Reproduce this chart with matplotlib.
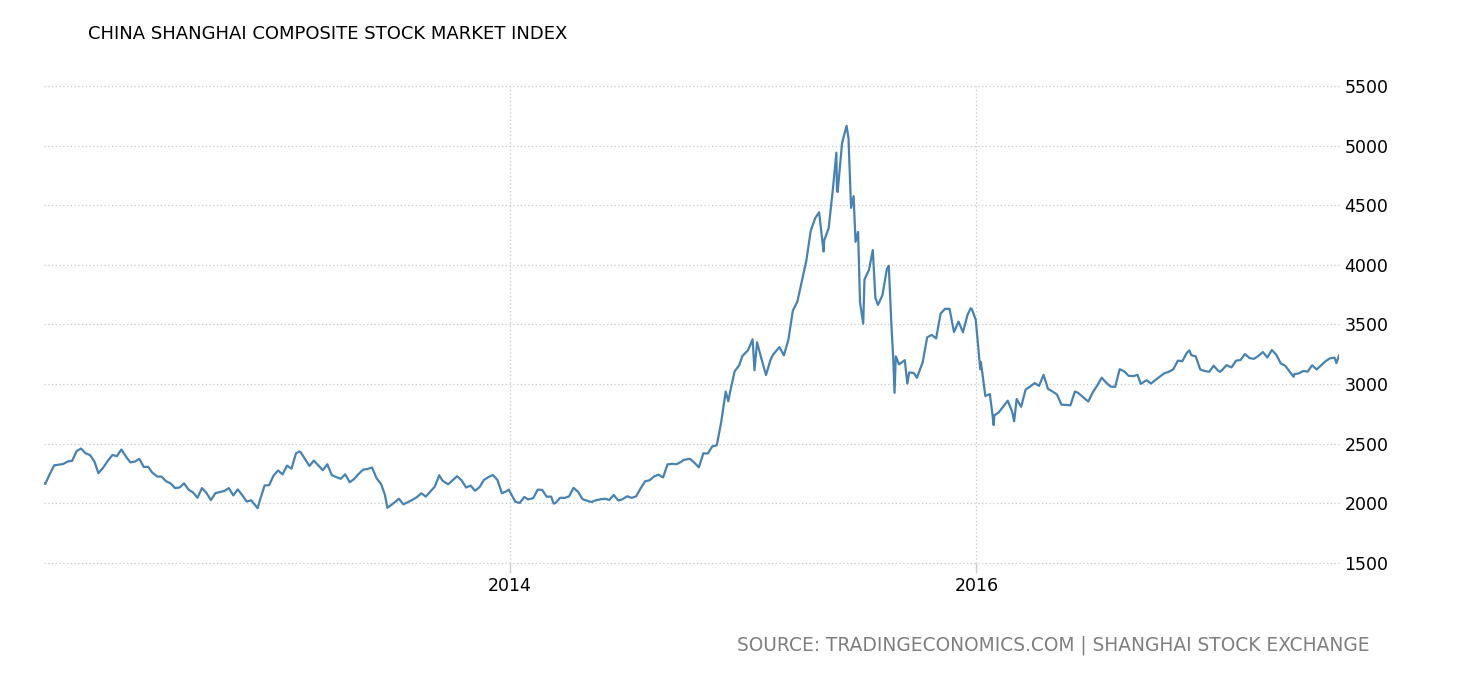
import pandas as pd
import matplotlib
matplotlib.use("Agg")
import matplotlib.pyplot as plt

# index levels (mostly weekly closes, a few daily extremes)
dates_2012 = ["2012-01-04", "2012-01-06", "2012-01-13", "2012-01-20", "2012-02-03", "2012-02-10",
              "2012-02-17", "2012-02-24", "2012-03-02", "2012-03-09", "2012-03-16", "2012-03-23",
              "2012-03-29", "2012-04-06", "2012-04-13", "2012-04-20", "2012-04-27", "2012-05-04",
              "2012-05-11", "2012-05-18", "2012-05-25", "2012-06-01", "2012-06-08", "2012-06-15",
              "2012-06-21", "2012-06-29", "2012-07-06", "2012-07-13", "2012-07-20", "2012-07-27",
              "2012-08-03", "2012-08-10", "2012-08-17", "2012-08-24", "2012-08-31", "2012-09-07",
              "2012-09-14", "2012-09-21", "2012-09-28", "2012-10-12", "2012-10-19", "2012-10-26",
              "2012-11-02", "2012-11-09", "2012-11-16", "2012-11-23", "2012-11-30", "2012-12-03",
              "2012-12-07", "2012-12-14", "2012-12-21", "2012-12-28"]
values_2012 = [2169, 2163, 2245, 2319, 2330, 2351,
               2357, 2439, 2460, 2420, 2405, 2349,
               2253, 2303, 2359, 2406, 2396, 2452,
               2394, 2344, 2350, 2373, 2306, 2306,
               2260, 2225, 2224, 2185, 2168, 2128,
               2133, 2168, 2115, 2092, 2047, 2128,
               2088, 2027, 2086, 2104, 2128, 2067,
               2117, 2069, 2015, 2026, 1980, 1959,
               2033, 2150, 2153, 2233]

dates_2013 = ["2013-01-04", "2013-01-11", "2013-01-18", "2013-01-25", "2013-02-01", "2013-02-06",
              "2013-02-08", "2013-02-22", "2013-03-01", "2013-03-08", "2013-03-15", "2013-03-22",
              "2013-03-29", "2013-04-03", "2013-04-12", "2013-04-19", "2013-04-26", "2013-05-03",
              "2013-05-10", "2013-05-17", "2013-05-24", "2013-05-31", "2013-06-07", "2013-06-14",
              "2013-06-20", "2013-06-24", "2013-06-28", "2013-07-05", "2013-07-12", "2013-07-19",
              "2013-07-26", "2013-08-02", "2013-08-09", "2013-08-16", "2013-08-23", "2013-08-30",
              "2013-09-06", "2013-09-13", "2013-09-18", "2013-09-27", "2013-10-11", "2013-10-18",
              "2013-10-25", "2013-11-01", "2013-11-08", "2013-11-15", "2013-11-22", "2013-11-29",
              "2013-12-06", "2013-12-13", "2013-12-20", "2013-12-27", "2013-12-31"]
values_2013 = [2276, 2243, 2317, 2291, 2419, 2434,
               2432, 2314, 2359, 2318, 2278, 2328,
               2237, 2225, 2206, 2244, 2177, 2205,
               2247, 2283, 2288, 2301, 2211, 2163,
               2073, 1963, 1979, 2007, 2039, 1992,
               2010, 2029, 2052, 2085, 2057, 2098,
               2140, 2236, 2191, 2160, 2228, 2193,
               2133, 2149, 2106, 2136, 2197, 2220,
               2238, 2197, 2085, 2101, 2116]

dates_2014 = ["2014-01-03", "2014-01-10", "2014-01-17", "2014-01-24", "2014-01-30", "2014-02-07",
              "2014-02-14", "2014-02-21", "2014-02-28", "2014-03-07", "2014-03-11", "2014-03-14",
              "2014-03-21", "2014-03-28", "2014-04-04", "2014-04-11", "2014-04-18", "2014-04-25",
              "2014-04-30", "2014-05-09", "2014-05-16", "2014-05-23", "2014-05-30", "2014-06-06",
              "2014-06-13", "2014-06-20", "2014-06-27", "2014-07-04", "2014-07-11", "2014-07-18",
              "2014-07-25", "2014-08-01", "2014-08-08", "2014-08-15", "2014-08-22", "2014-08-29",
              "2014-09-05", "2014-09-12", "2014-09-19", "2014-09-26", "2014-09-30", "2014-10-10",
              "2014-10-17", "2014-10-24", "2014-10-31", "2014-11-07", "2014-11-14", "2014-11-21",
              "2014-11-28", "2014-12-05", "2014-12-09", "2014-12-12", "2014-12-19", "2014-12-26",
              "2014-12-31"]
values_2014 = [2083, 2013, 2004, 2054, 2033, 2044,
               2115, 2113, 2056, 2057, 1998, 2004,
               2047, 2046, 2058, 2130, 2098, 2036,
               2026, 2011, 2026, 2034, 2039, 2029,
               2070, 2024, 2036, 2060, 2046, 2059,
               2127, 2185, 2194, 2226, 2241, 2217,
               2327, 2331, 2329, 2347, 2364, 2374,
               2341, 2302, 2420, 2418, 2478, 2487,
               2683, 2938, 2856, 2938, 3108, 3157,
               3235]

dates_2015 = ["2015-01-09", "2015-01-16", "2015-01-19", "2015-01-23", "2015-01-30", "2015-02-06",
              "2015-02-13", "2015-02-17", "2015-02-27", "2015-03-06", "2015-03-13", "2015-03-20",
              "2015-03-27", "2015-04-03", "2015-04-10", "2015-04-17", "2015-04-24", "2015-04-30",
              "2015-05-07", "2015-05-08", "2015-05-15", "2015-05-22", "2015-05-27", "2015-05-28",
              "2015-05-29", "2015-06-05", "2015-06-12", "2015-06-15", "2015-06-19", "2015-06-23",
              "2015-06-26", "2015-06-30", "2015-07-03", "2015-07-08", "2015-07-10", "2015-07-17",
              "2015-07-23", "2015-07-27", "2015-07-31", "2015-08-07", "2015-08-14", "2015-08-17",
              "2015-08-21", "2015-08-24", "2015-08-26", "2015-08-28", "2015-09-02", "2015-09-11",
              "2015-09-15", "2015-09-18", "2015-09-25", "2015-09-30", "2015-10-09", "2015-10-16",
              "2015-10-23", "2015-10-30", "2015-11-06", "2015-11-13", "2015-11-20", "2015-11-27",
              "2015-12-04", "2015-12-11", "2015-12-18", "2015-12-23", "2015-12-25", "2015-12-31"]
values_2015 = [3285, 3376, 3116, 3351, 3210, 3076,
               3203, 3247, 3310, 3241, 3373, 3617,
               3691, 3863, 4034, 4287, 4393, 4441,
               4112, 4205, 4308, 4658, 4941, 4620,
               4611, 5023, 5166, 5062, 4478, 4577,
               4193, 4277, 3687, 3507, 3878, 3958,
               4124, 3726, 3664, 3745, 3965, 3993,
               3508, 3210, 2927, 3233, 3166, 3201,
               3005, 3098, 3093, 3053, 3183, 3392,
               3413, 3383, 3591, 3632, 3631, 3436,
               3525, 3435, 3579, 3636, 3628, 3539]

dates_2016 = ["2016-01-04", "2016-01-07", "2016-01-08", "2016-01-15", "2016-01-22", "2016-01-26",
              "2016-01-28", "2016-01-29", "2016-02-05", "2016-02-19", "2016-02-26", "2016-02-29",
              "2016-03-04", "2016-03-11", "2016-03-18", "2016-03-25", "2016-04-01", "2016-04-08",
              "2016-04-15", "2016-04-22", "2016-04-29", "2016-05-06", "2016-05-13", "2016-05-20",
              "2016-05-27", "2016-06-03", "2016-06-08", "2016-06-17", "2016-06-24", "2016-07-01",
              "2016-07-08", "2016-07-15", "2016-07-22", "2016-07-29", "2016-08-05", "2016-08-12",
              "2016-08-19", "2016-08-26", "2016-09-02", "2016-09-09", "2016-09-14", "2016-09-23",
              "2016-09-30", "2016-10-14", "2016-10-21", "2016-10-28", "2016-11-04", "2016-11-11",
              "2016-11-18", "2016-11-25", "2016-11-29", "2016-12-02", "2016-12-09", "2016-12-16",
              "2016-12-23", "2016-12-30"]
values_2016 = [3297, 3125, 3186, 2901, 2916, 2750,
               2656, 2738, 2763, 2861, 2767, 2688,
               2875, 2810, 2955, 2979, 3009, 2985,
               3078, 2960, 2938, 2913, 2828, 2826,
               2822, 2938, 2927, 2885, 2854, 2932,
               2989, 3054, 3012, 2979, 2977, 3125,
               3108, 3070, 3067, 3078, 3002, 3033,
               3005, 3064, 3091, 3104, 3125, 3197,
               3192, 3262, 3283, 3244, 3232, 3123,
               3110, 3104]

dates_2017 = ["2017-01-06", "2017-01-13", "2017-01-16", "2017-01-20", "2017-01-26", "2017-02-03",
              "2017-02-10", "2017-02-17", "2017-02-24", "2017-03-03", "2017-03-10", "2017-03-17",
              "2017-03-24", "2017-03-31", "2017-04-07", "2017-04-14", "2017-04-21", "2017-04-28",
              "2017-05-05", "2017-05-11", "2017-05-12", "2017-05-19", "2017-05-26", "2017-06-02",
              "2017-06-09", "2017-06-16", "2017-06-23", "2017-06-30", "2017-07-07", "2017-07-14",
              "2017-07-17", "2017-07-21"]
values_2017 = [3154, 3113, 3103, 3123, 3159, 3140,
               3197, 3202, 3253, 3218, 3212, 3237,
               3269, 3223, 3286, 3246, 3173, 3154,
               3103, 3062, 3083, 3090, 3110, 3105,
               3158, 3123, 3157, 3192, 3217, 3222,
               3176, 3240]

dates = pd.to_datetime(dates_2012 + dates_2013 + dates_2014 + dates_2015 + dates_2016 + dates_2017)
values = values_2012 + values_2013 + values_2014 + values_2015 + values_2016 + values_2017

y_ticks = [1500, 2000, 2500, 3000, 3500, 4000, 4500, 5000, 5500]
x_ticks = pd.to_datetime(["2014-01-01", "2016-01-01"])
x_labels = ["2014", "2016"]

title = "CHINA SHANGHAI COMPOSITE STOCK MARKET INDEX"
source = "SOURCE: TRADINGECONOMICS.COM | SHANGHAI STOCK EXCHANGE"

plt.rcParams['font.family'] = ['DejaVu Sans']

fig = plt.figure(figsize=(14.6, 6.8), dpi=100)
ax = fig.add_axes([44 / 1460, 1 - 563 / 680, (1339 - 44) / 1460, (563 - 86) / 680])

ax.plot(dates, values, color='#4682b4', linewidth=1.6)

ax.set_xlim(dates[0], dates[-1])
ax.set_ylim(1500, 5500)

ax.yaxis.tick_right()
ax.set_yticks(y_ticks)
ax.set_yticklabels([str(v) for v in y_ticks])
ax.tick_params(axis='y', length=0, pad=4, labelsize=12.5, colors='black')

ax.set_xticks(x_ticks)
ax.set_xticklabels(x_labels)
ax.tick_params(axis='x', length=7, width=1, color='#cccccc', pad=3, labelsize=12.5)

ax.grid(True, color='#c8c8c8', linestyle=(0, (1, 2)), linewidth=0.9)
for gl in ax.get_ygridlines() + ax.get_xgridlines():
    gl.set_clip_on(False)
for s in ax.spines.values():
    s.set_visible(False)

fig.text(88 / 1460, 1 - 34 / 680, title, fontsize=13, ha='left', va='center', color='black')
fig.text(1370 / 1460, 1 - 645 / 680, source, fontsize=13.4, ha='right', va='center', color='#7f7f7f')

fig.savefig("out.png", dpi=100)
